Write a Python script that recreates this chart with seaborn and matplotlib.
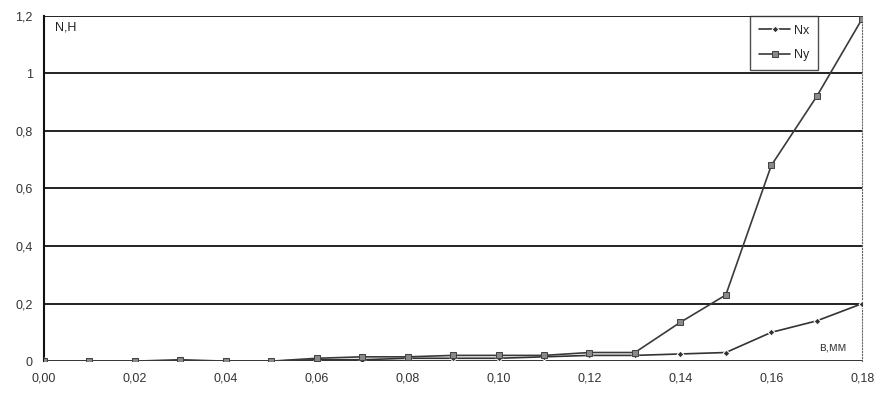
import pandas as pd
import seaborn as sns
import matplotlib.pyplot as plt

# data
x = [0.00, 0.01, 0.02, 0.03, 0.04, 0.05, 0.06, 0.07, 0.08, 0.09,
     0.10, 0.11, 0.12, 0.13, 0.14, 0.15, 0.16, 0.17, 0.18]
nx = [0.0, 0.0, 0.0, 0.0, 0.0, 0.0, 0.005, 0.005, 0.01, 0.01,
      0.01, 0.015, 0.02, 0.02, 0.025, 0.03, 0.10, 0.14, 0.20]
ny = [0.0, 0.0, 0.0, 0.005, 0.0, 0.0, 0.01, 0.015, 0.015, 0.02,
      0.02, 0.02, 0.03, 0.03, 0.135, 0.23, 0.68, 0.92, 1.19]
yticks = [0, 0.2, 0.4, 0.6, 0.8, 1.0, 1.2]
xticks = [0.00, 0.02, 0.04, 0.06, 0.08, 0.10, 0.12, 0.14, 0.16, 0.18]

df = pd.DataFrame({'x': x * 2, 'N': nx + ny, 'series': ['Nx'] * len(x) + ['Ny'] * len(x)})

sns.set_style('white')
plt.rcParams['font.family'] = ['Liberation Sans', 'DejaVu Sans']

fig = plt.figure(figsize=(8.78, 3.96), dpi=100)
ax = fig.add_axes([0.050, 0.088, 0.932, 0.872])

for y in yticks[1:]:
    ax.axhline(y, color='#111111', lw=1.3, zorder=1)
ax.axhline(0, color='#222222', lw=1.3, zorder=1)

plot = sns.lineplot(data=df, x='x', y='N', hue='series', style='series',
                    palette={'Nx': '#333333', 'Ny': '#3a3a3a'},
                    markers={'Nx': 'D', 'Ny': 's'}, dashes=False,
                    markersize=4, lw=1.2, ax=ax, zorder=3)
for line in ax.lines:
    if line.get_marker() == 's':
        line.set_markerfacecolor('#8a8a8a')
        line.set_markeredgecolor('#444444')
        line.set_markersize(4.5)
    elif line.get_marker() == 'D':
        line.set_markersize(3.5)

ax.set_xlim(0, 0.18)
ax.set_ylim(0, 1.2)
ax.set_xticks(xticks)
ax.set_xticklabels([f'{t:.2f}'.replace('.', ',') for t in xticks], fontsize=9, color='#333333')
ax.set_yticks(yticks)
ax.set_yticklabels(['0', '0,2', '0,4', '0,6', '0,8', '1', '1,2'], fontsize=9, color='#333333')
ax.tick_params(axis='both', length=0, pad=8)
ax.set_xlabel('')
ax.set_ylabel('')

for s in ['top', 'bottom']:
    ax.spines[s].set_visible(False)
ax.spines['left'].set_color('#111111')
ax.spines['left'].set_linewidth(1.5)
ax.spines['right'].set_color('#666666')
ax.spines['right'].set_linestyle(':')

ax.text(0.0025, 1.18, 'N,H', fontsize=9, ha='left', va='top', color='#222222')
ax.text(0.1705, 0.025, 'в,мм', fontsize=9, ha='left', va='bottom', color='#444444')

leg = ax.legend(loc='upper right', bbox_to_anchor=(0.946, 1.0), borderaxespad=0,
                fontsize=9, frameon=True, fancybox=False, edgecolor='#222222',
                handlelength=2.5, handletextpad=0.3, borderpad=0.7, labelspacing=1.0)
leg.get_frame().set_linewidth(1.0)

plt.savefig('out.png', dpi=100)
